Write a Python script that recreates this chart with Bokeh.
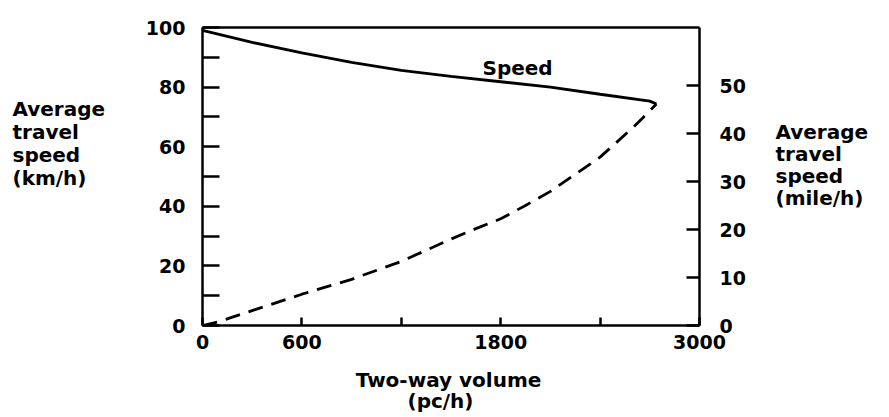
from bokeh.plotting import figure
from bokeh.models import Range1d, LinearAxis, FixedTicker, Label
from bokeh.embed import file_html
from bokeh.resources import INLINE

# ---- data ----
vol_speed = [0, 150, 300, 600, 900, 1200, 1500, 1800, 2100, 2400, 2700, 2740]
speed_kmh = [99, 97, 95, 91.5, 88.3, 85.6, 83.6, 81.8, 80.0, 77.6, 75.3, 74.3]
vol_dash = [0, 100, 300, 600, 900, 1200, 1500, 1650, 1800, 1950, 2100, 2400, 2600, 2740]
dash_kmh = [0, 1.3, 5.0, 10.5, 15.5, 21.5, 29.0, 32.5, 35.8, 40.3, 45.0, 56.5, 66.5, 74.3]
x_ticks = [0, 600, 1200, 1800, 2400, 3000]
x_tick_labels = {0: "0", 600: "600", 1200: "", 1800: "1800", 2400: "", 3000: "3000"}
y_ticks = list(range(0, 101, 10))
y_tick_labels = {t: (str(t) if t % 20 == 0 else "") for t in y_ticks}
mph_ticks = [0, 10, 20, 30, 40, 50]
X_MAX, Y_MAX = 3000, 100
KMH_PER_MILE = 1.609344

FONT = "DejaVu Sans"
FS = "19px"
FS_T = "20px"
W, H = 885, 415
# plot box in canvas pixels
L, R, T, B = 202, 699, 27, 325
sx = X_MAX / (R - L)
sy = Y_MAX / (B - T)
x0, x1 = -L * sx, (W - L) * sx
y0, y1 = -(H - B) * sy, Y_MAX + T * sy

p = figure(width=W, height=H, output_backend="svg", toolbar_location=None,
           x_range=Range1d(x0, x1), y_range=Range1d(y0, y1),
           x_axis_location=None, y_axis_location=None,
           min_border=0)
p.xgrid.visible = False
p.ygrid.visible = False
p.background_fill_color = "white"
p.border_fill_color = "white"
p.outline_line_color = None
p.extra_y_ranges = {"mph": Range1d(y0 / KMH_PER_MILE, y1 / KMH_PER_MILE)}

def style_axis(ax, tin, standoff):
    ax.axis_line_width = 2.5
    ax.axis_line_color = "black"
    ax.major_tick_in = tin
    ax.major_tick_out = 0
    ax.major_tick_line_width = 2.5
    ax.minor_tick_line_color = None
    ax.major_label_text_font = FONT
    ax.major_label_text_font_style = "bold"
    ax.major_label_text_font_size = FS
    ax.major_label_text_color = "black"
    ax.major_label_standoff = standoff

xa = LinearAxis(ticker=FixedTicker(ticks=x_ticks), fixed_location=0, bounds=(0, X_MAX))
xa.major_label_overrides = x_tick_labels
style_axis(xa, 8, 9)
p.add_layout(xa, "below")

top = LinearAxis(ticker=FixedTicker(ticks=[]), fixed_location=Y_MAX, bounds=(0, X_MAX))
style_axis(top, 0, 0)
top.major_label_text_font_size = "0px"
p.add_layout(top, "above")

ya = LinearAxis(ticker=FixedTicker(ticks=y_ticks), fixed_location=0, bounds=(0, Y_MAX))
ya.major_label_overrides = y_tick_labels
style_axis(ya, 17, 17)
p.add_layout(ya, "left")

ra = LinearAxis(y_range_name="mph", ticker=FixedTicker(ticks=mph_ticks),
                fixed_location=X_MAX, bounds=(0, Y_MAX / KMH_PER_MILE))
style_axis(ra, 13, 20)
p.add_layout(ra, "right")

p.line(vol_speed, speed_kmh, line_color="black", line_width=2.8)
p.line(vol_dash, dash_kmh, line_color="black", line_width=2.8, line_dash="15 9")

def add_text(txt, px, py, align="left", size=FS_T):
    p.add_layout(Label(x=(px - L) * sx, y=(B - py) * sy, text=txt, text_font=FONT,
                       text_font_style="bold", text_font_size=size,
                       text_align=align, text_baseline="middle",
                       text_color="black"))

for i, t in enumerate(["Average", "travel", "speed", "(km/h)"]):
    add_text(t, 12, 108 + i * 23.3)
for i, t in enumerate(["Average", "travel", "speed", "(mile/h)"]):
    add_text(t, 775, 131 + i * 22)
add_text("Two-way volume", 448, 379, "center")
add_text("(pc/h)", 440, 400, "center")
add_text("Speed", 482, 67)

open("out.html", "w").write(file_html(p, INLINE))
